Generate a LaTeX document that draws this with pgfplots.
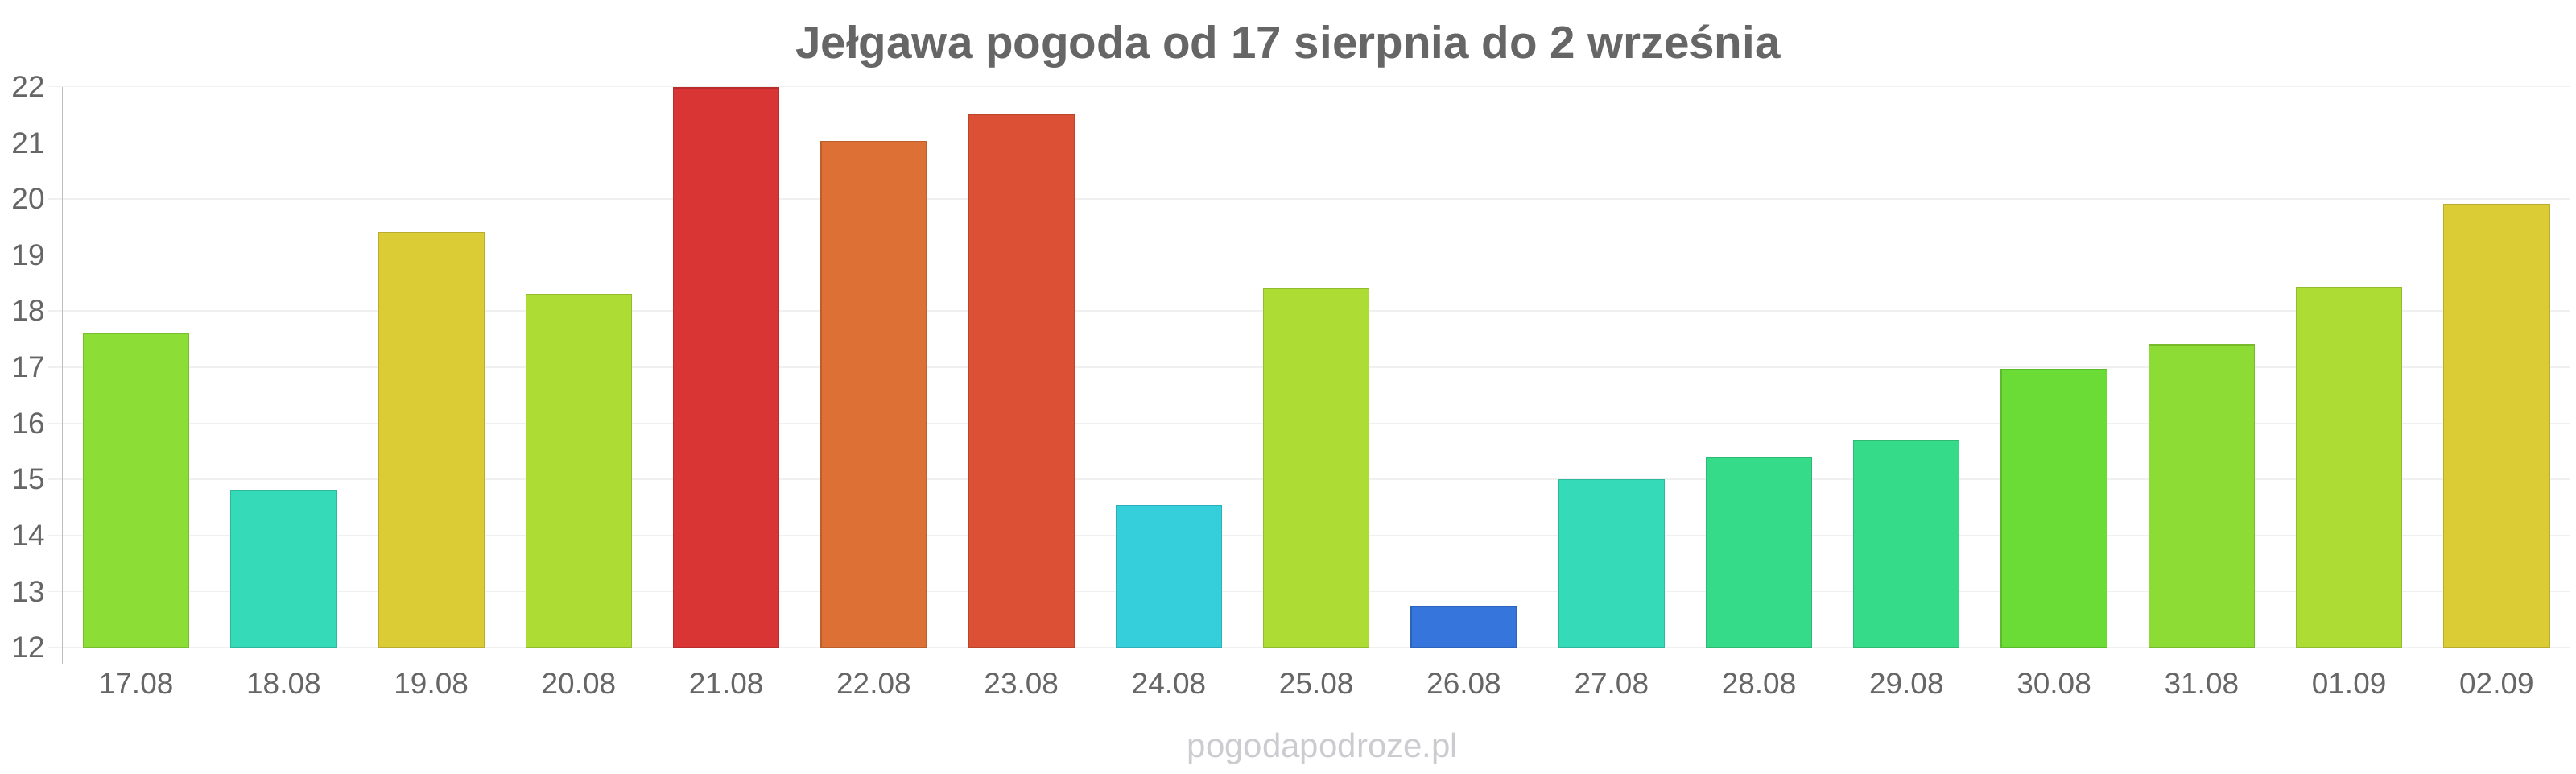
\documentclass[border=0pt]{standalone}
\usepackage{pgfplots}
\pgfplotsset{compat=1.18}
\usepackage{fontspec}
\setmainfont{Liberation Sans}
\definecolor{txt}{HTML}{666666}
\definecolor{gridc}{HTML}{F0F0F0}
\definecolor{axisc}{HTML}{BDBDBD}
\definecolor{wm}{HTML}{CBCBD0}
\definecolor{cA}{HTML}{8CDE36}
\definecolor{cB}{HTML}{35DBB8}
\definecolor{cC}{HTML}{DBCB35}
\definecolor{cD}{HTML}{ADDD35}
\definecolor{cE}{HTML}{DA3535}
\definecolor{cF}{HTML}{DC7035}
\definecolor{cG}{HTML}{DC5035}
\definecolor{cH}{HTML}{35CFDB}
\definecolor{cI}{HTML}{3575DC}
\definecolor{cJ}{HTML}{35DB88}
\definecolor{cK}{HTML}{6BDC35}
\definecolor{cL}{HTML}{8CDC35}
\begin{document}
\begin{tikzpicture}
\useasboundingbox (0,0) rectangle (1600pt,480pt);
\begin{axis}[
  name=ax,
  at={(38.75pt,78pt)}, anchor=south west,
  width=1557.75pt, height=348.15pt, scale only axis,
  xmin=-0.5, xmax=16.5, ymin=12, ymax=22,
  ytick={12,13,...,22},
  xtick={0,1,...,16},
  xticklabels={17.08,18.08,19.08,20.08,21.08,22.08,23.08,24.08,25.08,26.08,27.08,28.08,29.08,30.08,31.08,01.09,02.09},
  axis y line*=left, axis x line*=bottom,
  x axis line style={draw=none},
  y axis line style={draw=axisc, line width=0.75pt},
  ymajorgrids, grid style={draw=gridc, line width=0.8pt},
  tick label style={font=\fontsize{18.5}{20}\selectfont, text=txt},
  /pgf/number format/assume math mode=true,
  ytick style={draw=gridc, line width=0.8pt},
  xtick style={draw=none},
  major tick length=9pt,
  tick align=outside,
  yticklabel style={anchor=east, inner sep=0pt, xshift=-1.75pt},
  xticklabel style={anchor=center, inner sep=0pt, yshift=-13.5pt},
  ybar, bar width=0.715, bar shift=0pt,
]
\addplot[fill=cA, draw=cA!85!black, line width=0.6pt] coordinates {(0,17.6)};
\addplot[fill=cB, draw=cB!85!black, line width=0.6pt] coordinates {(1,14.8)};
\addplot[fill=cC, draw=cC!85!black, line width=0.6pt] coordinates {(2,19.4)};
\addplot[fill=cD, draw=cD!85!black, line width=0.6pt] coordinates {(3,18.3)};
\addplot[fill=cE, draw=cE!85!black, line width=0.6pt] coordinates {(4,21.98)};
\addplot[fill=cF, draw=cF!85!black, line width=0.6pt] coordinates {(5,21.03)};
\addplot[fill=cG, draw=cG!85!black, line width=0.6pt] coordinates {(6,21.5)};
\addplot[fill=cH, draw=cH!85!black, line width=0.6pt] coordinates {(7,14.54)};
\addplot[fill=cD, draw=cD!85!black, line width=0.6pt] coordinates {(8,18.4)};
\addplot[fill=cI, draw=cI!85!black, line width=0.6pt] coordinates {(9,12.73)};
\addplot[fill=cB, draw=cB!85!black, line width=0.6pt] coordinates {(10,15.0)};
\addplot[fill=cJ, draw=cJ!85!black, line width=0.6pt] coordinates {(11,15.39)};
\addplot[fill=cJ, draw=cJ!85!black, line width=0.6pt] coordinates {(12,15.7)};
\addplot[fill=cK, draw=cK!85!black, line width=0.6pt] coordinates {(13,16.96)};
\addplot[fill=cL, draw=cL!85!black, line width=0.6pt] coordinates {(14,17.4)};
\addplot[fill=cD, draw=cD!85!black, line width=0.6pt] coordinates {(15,18.43)};
\addplot[fill=cC, draw=cC!85!black, line width=0.6pt] coordinates {(16,19.9)};
\end{axis}
\draw[axisc, line width=0.75pt] (ax.south west) -- ++(0,-10pt);
\node[anchor=base, font=\bfseries\fontsize{28.3}{30}\selectfont, text=txt] at (800pt,443.5pt) {Jełgawa pogoda od 17 sierpnia do 2 września};
\node[anchor=base, font=\fontsize{21}{23}\selectfont, text=wm] at (821.5pt,10pt) {pogodapodroze.pl};
\end{tikzpicture}
\end{document}
